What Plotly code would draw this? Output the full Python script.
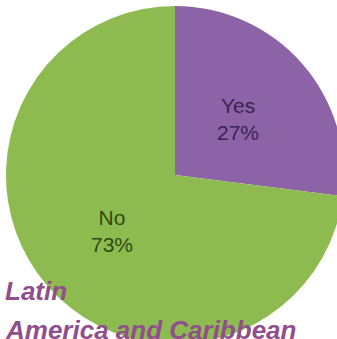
import math
import plotly.graph_objects as go

# Survey answers for the region
labels = ["Yes", "No"]
values = [27, 73]
colors = ["#8b63a6", "#8dbb4f"]
text_colors = ["#3b2352", "#2f4a14"]
region_lines = ["Latin", "America and Caribbean"]

W, H = 352, 356            # canvas slightly larger than the view so the pie can run off the edge
cx, cy, r = 175, 175, 169  # pie centre and radius in pixels (from top-left)

fig = go.Figure(
    go.Pie(
        labels=labels,
        values=values,
        sort=False,
        direction="clockwise",
        rotation=0,
        marker=dict(colors=colors, line=dict(width=0)),
        textinfo="none",
        hoverinfo="skip",
        showlegend=False,
        domain=dict(
            x=[(cx - r) / W, (cx + r) / W],
            y=[(H - cy - r) / H, (H - cy + r) / H],
        ),
    )
)

# Slice labels: name and share, set halfway out along each slice's middle angle
total = sum(values)
start = 0.0
for lab, val, tc in zip(labels, values, text_colors):
    mid = math.radians(360 * (start + val / 2) / total)
    start += val
    px = cx + 0.5 * r * math.sin(mid)
    py = cy - 0.5 * r * math.cos(mid)
    fig.add_annotation(
        text=f"{lab}<br>{round(100 * val / total)}%",
        xref="paper", yref="paper",
        x=px / W, y=1 - py / H,
        xanchor="center", yanchor="middle",
        showarrow=False,
        font=dict(family="Liberation Sans", size=21, color=tc),
    )

# Region name, two lines in bold italic at the lower left
title_font = dict(family="Liberation Sans", size=26, color="#904f8c")
baselines = [300, 339]
for line, base in zip(region_lines, baselines):
    fig.add_annotation(
        text=f"<b><i>{line}</i></b>",
        xref="paper", yref="paper",
        x=3 / W, y=1 - (base + 7.5) / H,
        xanchor="left", yanchor="bottom",
        showarrow=False,
        font=title_font,
    )

fig.update_layout(
    width=W,
    height=H,
    margin=dict(l=0, r=0, t=0, b=0),
    paper_bgcolor="white",
    plot_bgcolor="white",
)

fig.write_html(
    "out.html",
    config={"displayModeBar": False},
    post_script="document.body.style.overflow='hidden';document.body.style.margin='0';",
)
